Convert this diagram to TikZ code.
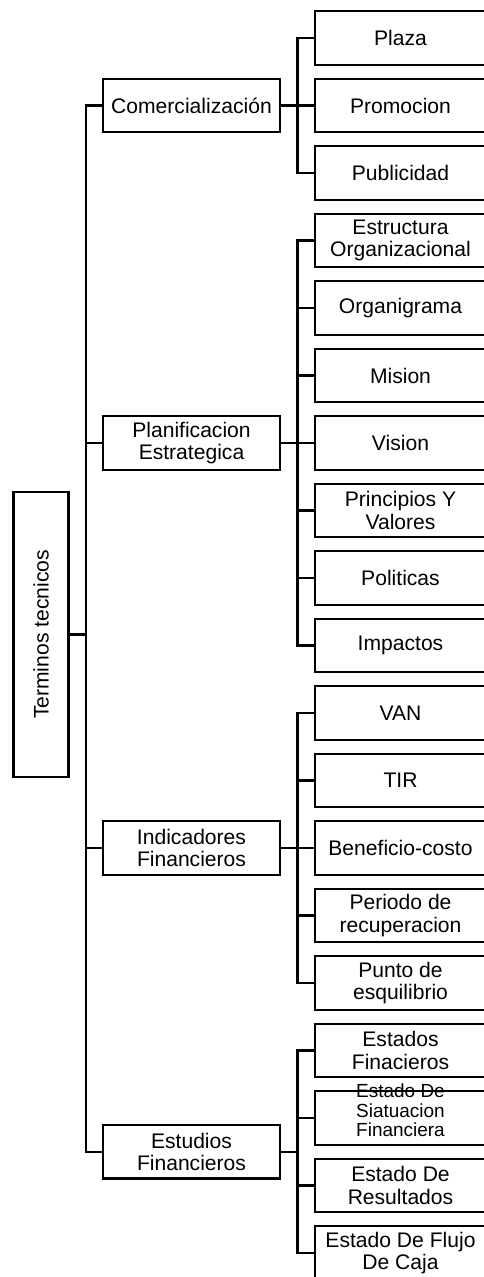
\documentclass[tikz,border=0pt]{standalone}
\usepackage{fontspec}
\setmainfont{Liberation Sans}
\usetikzlibrary{positioning,calc}

\begin{document}
\begin{tikzpicture}[node distance=0.28cm and 0.7cm,
		leafbox/.style={draw, line width=1.3pt, outer sep=0pt, minimum width=3.42cm, minimum height=1.07cm, inner sep=1pt, align=center, font=\fontsize{12}{12.8}\selectfont},
		midbox/.style={draw, line width=1.3pt, outer sep=0pt, minimum width=3.54cm, minimum height=1.07cm, inner sep=1pt, align=center, font=\fontsize{12}{12.8}\selectfont},
		rootbox/.style={draw, line width=1.3pt, outer sep=0pt, minimum width=1.1cm, minimum height=5.69cm, inner sep=1pt, font=\fontsize{12}{12.8}\selectfont},
		branch/.style={line width=1.3pt}
		]
	\useasboundingbox (0,0) rectangle (9.66,-25.54);

	% hojas
	\node [leafbox] (plaza) at (8.01,-0.76) {Plaza};
	\node [leafbox, below=of plaza] (promo) {Promocion};
	\node [leafbox, below=of promo] (publi) {Publicidad};
	\node [leafbox, below=of publi] (estru) {Estructura\\Organizacional};
	\node [leafbox, below=of estru] (organi) {Organigrama};
	\node [leafbox, below=of organi] (mision) {Mision};
	\node [leafbox, below=of mision] (vision) {Vision};
	\node [leafbox, below=of vision] (princ) {Principios Y\\Valores};
	\node [leafbox, below=of princ] (polit) {Politicas};
	\node [leafbox, below=of polit] (impac) {Impactos};
	\node [leafbox, below=of impac] (van) {VAN};
	\node [leafbox, below=of van] (tir) {TIR};
	\node [leafbox, below=of tir] (benef) {Beneficio-costo};
	\node [leafbox, below=of benef] (perio) {Periodo de\\recuperacion};
	\node [leafbox, below=of perio] (punto) {Punto de\\esquilibrio};
	\node [leafbox, below=of punto] (estfin) {Estados\\Finacieros};
	\node [leafbox, below=of estfin] (sit) {\fontsize{10.8}{10.8}\selectfont\smash{\begin{tabular}{@{}c@{}}Estado De\\Siatuacion\\Financiera\end{tabular}}};
	\node [leafbox, below=of sit] (resul) {Estado De\\Resultados};
	\node [leafbox, below=of resul] (flujo) {Estado De Flujo\\De Caja};

	% ramas
	\node [midbox, left=of promo] (com) {Comercialización};
	\node [midbox, left=of vision] (plan) {Planificacion\\Estrategica};
	\node [midbox, left=of benef] (ind) {Indicadores\\Financieros};
	\coordinate (m4) at ($(sit.west)!0.5!(resul.west)$);
	\node [midbox, left=of m4] (estud) {Estudios\\Financieros};

	\node [rootbox] (root) at (0.82,-12.69) {\rotatebox{90}{Terminos tecnicos}};

	% conectores
	\foreach \m in {com,plan,ind,estud}
		\draw [branch] (root.east) -- ++(0.35,0) |- (\m.west);
	\foreach \l in {plaza,promo,publi}
		\draw [branch] (com.east) -- ++(0.35,0) |- (\l.west);
	\foreach \l in {estru,organi,mision,vision,princ,polit,impac}
		\draw [branch] (plan.east) -- ++(0.35,0) |- (\l.west);
	\foreach \l in {van,tir,benef,perio,punto}
		\draw [branch] (ind.east) -- ++(0.35,0) |- (\l.west);
	\foreach \l in {estfin,sit,resul,flujo}
		\draw [branch] (estud.east) -- ++(0.35,0) |- (\l.west);
\end{tikzpicture}
\end{document}
